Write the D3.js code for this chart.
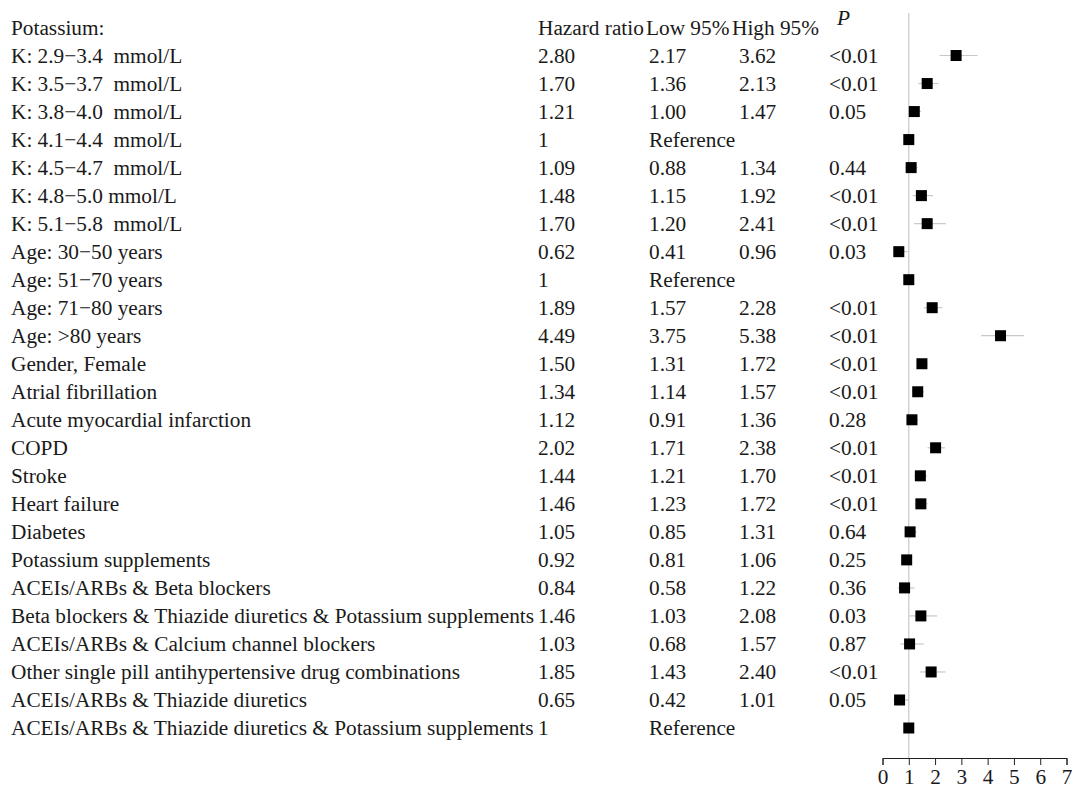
<!DOCTYPE html>
<html>
<head>
<meta charset="utf-8">
<script src="https://cdn.jsdelivr.net/npm/d3@7"></script>
<style>
  body { margin: 0; background: #fff; }
  text { font-family: "Liberation Serif", "Times New Roman", serif; fill: #1a1a1a; white-space: pre; }
</style>
</head>
<body>
<div id="chart"></div>
<script>
// filas del forest plot
const etiquetas = [
  "K: 2.9\u22123.4  mmol/L", "K: 3.5\u22123.7  mmol/L", "K: 3.8\u22124.0  mmol/L",
  "K: 4.1\u22124.4  mmol/L", "K: 4.5\u22124.7  mmol/L", "K: 4.8\u22125.0 mmol/L",
  "K: 5.1\u22125.8  mmol/L", "Age: 30\u221250 years", "Age: 51\u221270 years",
  "Age: 71\u221280 years", "Age: >80 years", "Gender, Female", "Atrial fibrillation",
  "Acute myocardial infarction", "COPD", "Stroke", "Heart failure", "Diabetes",
  "Potassium supplements", "ACEIs/ARBs & Beta blockers",
  "Beta blockers & Thiazide diuretics & Potassium supplements",
  "ACEIs/ARBs & Calcium channel blockers",
  "Other single pill antihypertensive drug combinations",
  "ACEIs/ARBs & Thiazide diuretics",
  "ACEIs/ARBs & Thiazide diuretics & Potassium supplements"
]
const hr   = [2.80, 1.70, 1.21, 1, 1.09, 1.48, 1.70, 0.62, 1, 1.89, 4.49, 1.50, 1.34, 1.12, 2.02, 1.44, 1.46, 1.05, 0.92, 0.84, 1.46, 1.03, 1.85, 0.65, 1]
const bajo = [2.17, 1.36, 1.00, null, 0.88, 1.15, 1.20, 0.41, null, 1.57, 3.75, 1.31, 1.14, 0.91, 1.71, 1.21, 1.23, 0.85, 0.81, 0.58, 1.03, 0.68, 1.43, 0.42, null]
const alto95 = [3.62, 2.13, 1.47, null, 1.34, 1.92, 2.41, 0.96, null, 2.28, 5.38, 1.72, 1.57, 1.36, 2.38, 1.70, 1.72, 1.31, 1.06, 1.22, 2.08, 1.57, 2.40, 1.01, null]
const pval = ["<0.01", "<0.01", "0.05", "", "0.44", "<0.01", "<0.01", "0.03", "", "<0.01", "<0.01", "<0.01", "<0.01", "0.28", "<0.01", "<0.01", "<0.01", "0.64", "0.25", "0.36", "0.03", "0.87", "<0.01", "0.05", ""]
const ticksX = [0, 1, 2, 3, 4, 5, 6, 7]

const ancho = 1072
const alto = 790
const fuente = 21.3

const datos = etiquetas.map((e, i) => ({
  etiqueta: e, hr: hr[i], bajo: bajo[i], alto: alto95[i], p: pval[i], fila: i + 1
}))

const svg = d3.select("#chart").append("svg").attr("width", ancho).attr("height", alto)

const x = d3.scaleLinear().domain([0, 7]).range([882.5, 1066.5])
const y = d3.scaleLinear().domain([0, 25]).range([27.5, 728])
const ejeY = 758

const columnas = { etiqueta: 11, hr: 538, bajo: 649, alto: 739, p: 829 }

// cabecera
const cab = svg.append("g").attr("font-size", fuente).attr("dominant-baseline", "central")
cab.append("text").attr("x", columnas.etiqueta).attr("y", y(0)).text("Potassium:")
cab.append("text").attr("x", columnas.hr).attr("y", y(0)).text("Hazard ratio")
cab.append("text").attr("x", columnas.bajo - 3).attr("y", y(0)).text("Low 95%")
cab.append("text").attr("x", columnas.alto - 7).attr("y", y(0)).text("High 95%")
cab.append("text").attr("x", 837).attr("y", y(0) - 10).attr("font-style", "italic").text("P")

// tabla
const filas = svg.append("g").attr("font-size", fuente).attr("dominant-baseline", "central")
  .selectAll("g").data(datos).enter().append("g")
  .attr("transform", d => `translate(0, ${y(d.fila)})`)

filas.append("text").attr("x", columnas.etiqueta).text(d => d.etiqueta)
filas.append("text").attr("x", columnas.hr).text(d => d.bajo == null ? "1" : d.hr.toFixed(2))
filas.append("text").attr("x", columnas.bajo).text(d => d.bajo == null ? "Reference" : d.bajo.toFixed(2))
filas.append("text").attr("x", columnas.alto).text(d => d.alto == null ? "" : d.alto.toFixed(2))
filas.append("text").attr("x", columnas.p).text(d => d.p)

// linea de referencia en HR = 1
svg.append("line")
  .attr("x1", x(1)).attr("x2", x(1))
  .attr("y1", 13).attr("y2", ejeY)
  .attr("stroke", "#c8c8c8").attr("stroke-width", 1.2)

// intervalos de confianza
svg.append("g").selectAll("line").data(datos.filter(d => d.bajo != null)).enter().append("line")
  .attr("x1", d => x(d.bajo)).attr("x2", d => x(d.alto))
  .attr("y1", d => y(d.fila)).attr("y2", d => y(d.fila))
  .attr("stroke", "#c8c8c8").attr("stroke-width", 1.2)

// marcadores
const lado = 11
svg.append("g").selectAll("rect").data(datos).enter().append("rect")
  .attr("x", d => x(d.hr) - lado / 2)
  .attr("y", d => y(d.fila) - lado / 2)
  .attr("width", lado).attr("height", lado)
  .attr("fill", "#000")

// eje x
const eje = svg.append("g").attr("transform", `translate(0, ${ejeY})`)
  .call(d3.axisBottom(x).tickValues(ticksX).tickFormat(d3.format("d")).tickSize(7).tickPadding(4))
eje.select(".domain").attr("stroke", "#222")
eje.selectAll(".tick line").attr("stroke", "#222")
eje.selectAll(".tick text").attr("font-size", fuente).attr("font-family", "Liberation Serif").attr("fill", "#1a1a1a")
</script>
</body>
</html>
